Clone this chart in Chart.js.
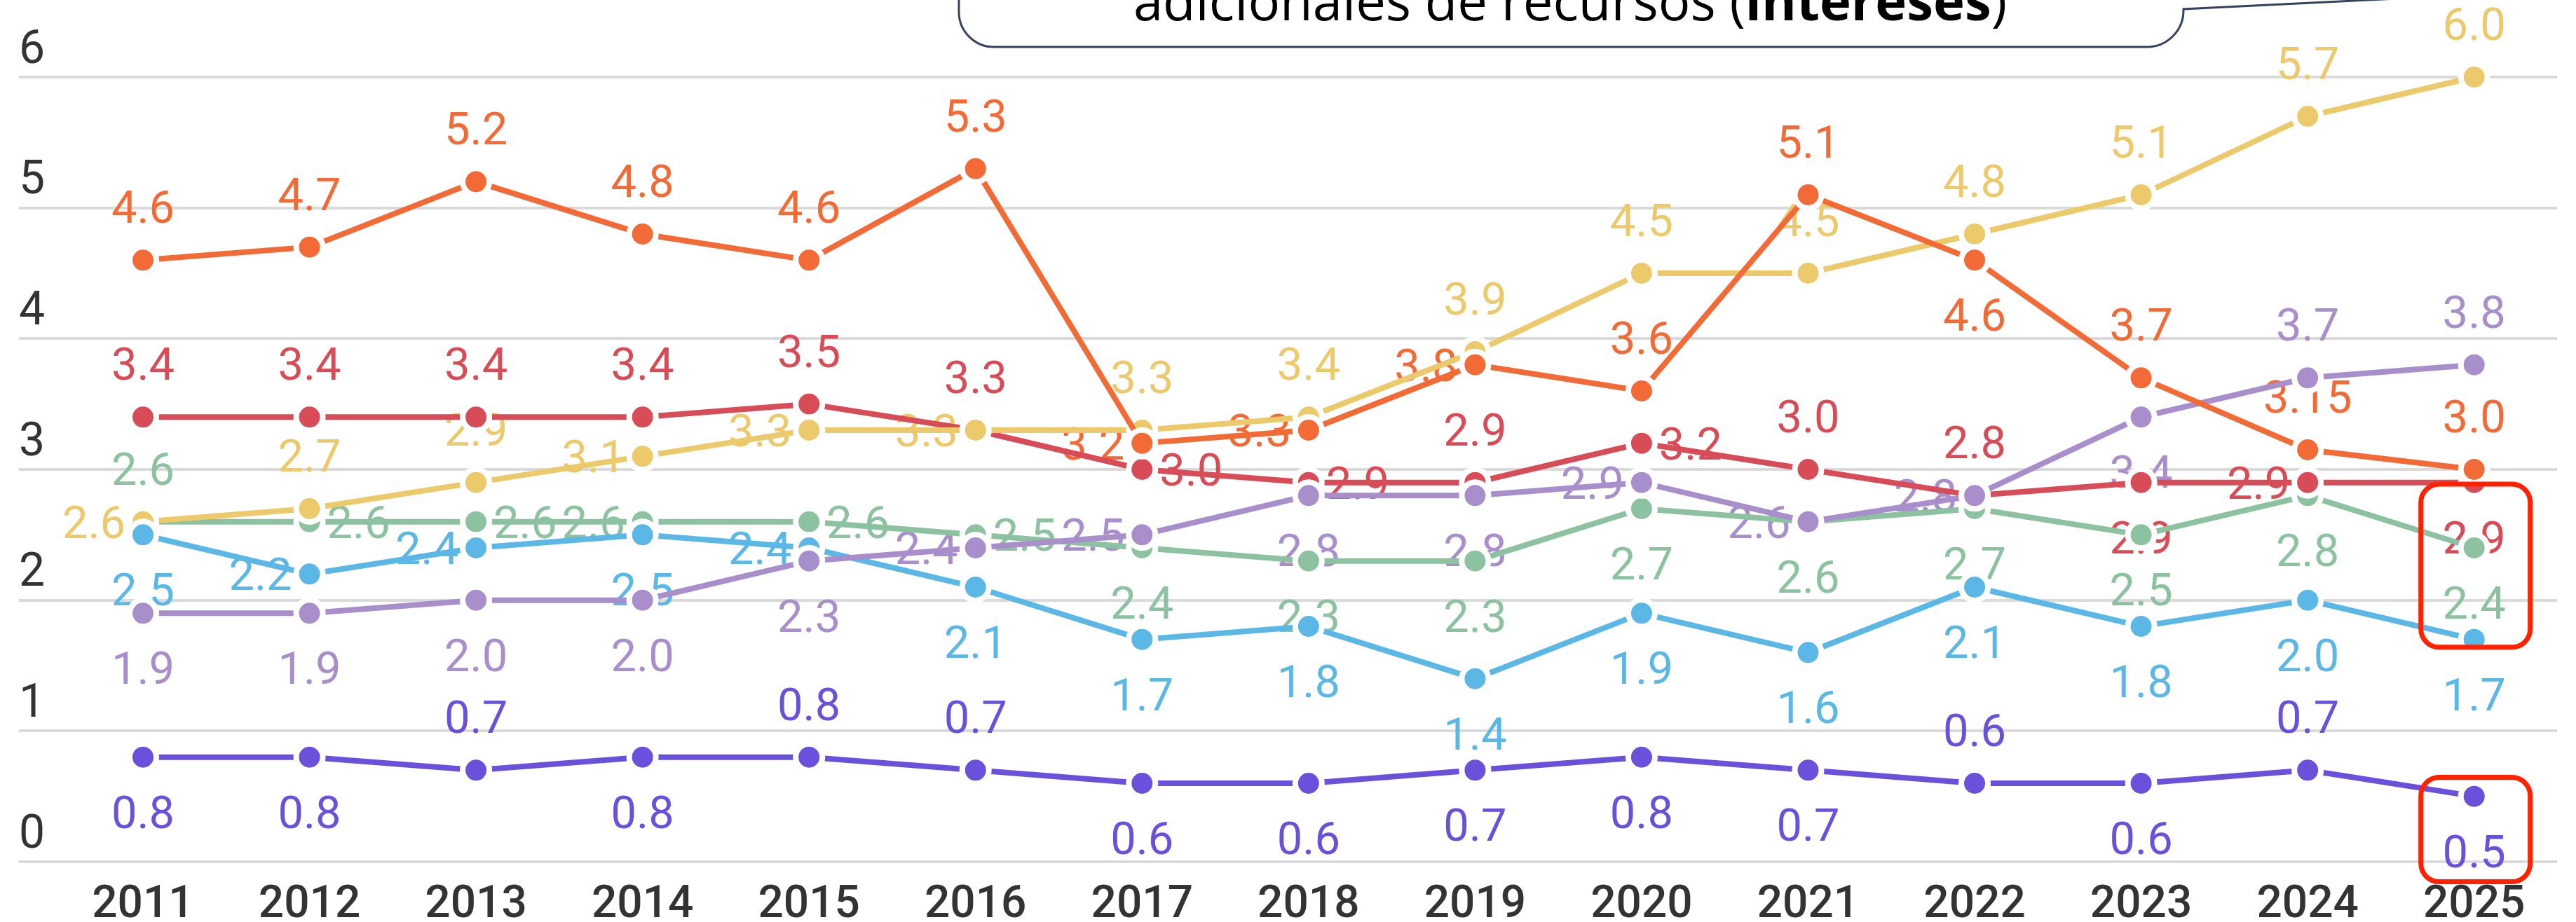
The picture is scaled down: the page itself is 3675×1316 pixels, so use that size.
<!DOCTYPE html>
<html>
<head>
<meta charset="utf-8">
<script src="https://cdn.jsdelivr.net/npm/chart.js@4.4.1/dist/chart.umd.min.js"></script>
<style>
  html, body { margin: 0; padding: 0; background: #ffffff; }
  canvas { display: block; }
</style>
</head>
<body>
<canvas id="chart" width="3675" height="1316"></canvas>
<script>
// categories and tick labels
const years = [2011, 2012, 2013, 2014, 2015, 2016, 2017, 2018, 2019, 2020, 2021, 2022, 2023, 2024, 2025];
const yTicks = [0, 1, 2, 3, 4, 5, 6];

// series values
const orange   = [4.6, 4.7, 5.2, 4.8, 4.6, 5.3, 3.2, 3.3, 3.8, 3.6, 5.1, 4.6, 3.7, 3.15, 3.0];
const red      = [3.4, 3.4, 3.4, 3.4, 3.5, 3.3, 3.0, 2.9, 2.9, 3.2, 3.0, 2.8, 2.9, 2.9, 2.9];
const yellow   = [2.6, 2.7, 2.9, 3.1, 3.3, 3.3, 3.3, 3.4, 3.9, 4.5, 4.5, 4.8, 5.1, 5.7, 6.0];
const green    = [2.6, 2.6, 2.6, 2.6, 2.6, 2.5, 2.4, 2.3, 2.3, 2.7, 2.6, 2.7, 2.5, 2.8, 2.4];
const blue     = [2.5, 2.2, 2.4, 2.5, 2.4, 2.1, 1.7, 1.8, 1.4, 1.9, 1.6, 2.1, 1.8, 2.0, 1.7];
const lavender = [1.9, 1.9, 2.0, 2.0, 2.3, 2.4, 2.5, 2.8, 2.8, 2.9, 2.6, 2.8, 3.4, 3.7, 3.8];
const purple   = [0.8, 0.8, 0.7, 0.8, 0.8, 0.7, 0.6, 0.6, 0.7, 0.8, 0.7, 0.6, 0.6, 0.7, 0.5];

// where each value label sits: a = above, b = below, l = left, r = right
const orangePos   = 'a a a a a a l l l a a b a a a'.split(' ');
const redPos      = 'a a a a a a r r a r a a b l b'.split(' ');
const yellowPos   = 'l a a l l l a a a a a a a a a'.split(' ');
const greenPos    = 'a r r l r r b b b b b b b b b'.split(' ');
const bluePos     = 'b l l b l b b b b b b b b b b'.split(' ');
const lavenderPos = 'b b b b b l l b b l l l b a a'.split(' ');
const purplePos   = 'b b a b a a b b b b b a b a b'.split(' ');

const fmt = v => Math.abs(v * 10 - Math.round(v * 10)) < 1e-9 ? v.toFixed(1) : v.toFixed(2);

function makeSet(values, color, pos, order) {
  return {
    data: values.map((v, i) => ({ x: years[i], y: v })),
    borderColor: color,
    backgroundColor: color,
    pointBackgroundColor: color,
    pointBorderColor: '#ffffff',
    pointBorderWidth: 8,
    pointRadius: 19,
    borderWidth: 8,
    tension: 0,
    clip: false,
    order: order,
    labelPos: pos
  };
}

const labelPlugin = {
  id: 'valueLabels',
  beforeDatasetsDraw(chart) {
    const ctx = chart.ctx;
    ctx.save();
    ctx.font = '400 65px Roboto';
    ctx.textAlign = 'center';
    ctx.textBaseline = 'alphabetic';
    chart.data.datasets.forEach((ds, i) => {
      const meta = chart.getDatasetMeta(i);
      meta.data.forEach((pt, j) => {
        const p = ds.labelPos[j];
        let dx = 0, dy = 0;
        if (p === 'a') dy = -76;
        else if (p === 'b') dy = 78;
        else if (p === 'l') dx = -70;
        else dx = 70;
        ctx.fillStyle = ds.borderColor;
        ctx.fillText(fmt(ds.data[j].y), pt.x + dx, pt.y + dy + 23);
      });
    });
    ctx.restore();
  }
};

const notePlugin = {
  id: 'notes',
  afterDraw(chart) {
    const ctx = chart.ctx;
    const xs = chart.scales.x, ys = chart.scales.y;
    ctx.save();

    // callout box cut at the top of the picture
    const outline = () => {
      ctx.beginPath();
      ctx.moveTo(1368, -20);
      ctx.lineTo(1368, 17);
      ctx.arcTo(1368, 67, 1418, 67, 50);
      ctx.lineTo(3063, 67);
      ctx.arcTo(3115, 67, 3115, 15, 52);
      ctx.lineTo(3115, 13);
      ctx.lineTo(3440, -3);
    };
    outline();
    ctx.lineTo(3440, -20);
    ctx.closePath();
    ctx.fillStyle = '#ffffff';
    ctx.fill();
    outline();
    ctx.strokeStyle = '#34425e';
    ctx.lineWidth = 3;
    ctx.stroke();

    const t1 = 'adicionales de recursos (';
    const t2 = 'intereses';
    const t3 = ')';
    ctx.fillStyle = '#000000';
    ctx.textBaseline = 'alphabetic';
    ctx.textAlign = 'left';
    ctx.font = '400 76px "Open Sans"';
    const w1 = ctx.measureText(t1).width, w3 = ctx.measureText(t3).width;
    ctx.font = '700 76px "Open Sans"';
    const w2 = ctx.measureText(t2).width;
    let tx = 2240 - (w1 + w2 + w3) / 2;
    const ty = 29;
    ctx.font = '400 76px "Open Sans"';
    ctx.fillText(t1, tx, ty);
    tx += w1;
    ctx.font = '700 76px "Open Sans"';
    ctx.fillText(t2, tx, ty);
    tx += w2;
    ctx.font = '400 76px "Open Sans"';
    ctx.fillText(t3, tx, ty);

    // red highlight boxes on the last year
    const cx = xs.getPixelForValue(years[years.length - 1]) + 2;
    ctx.strokeStyle = '#ff2200';
    ctx.lineWidth = 7;
    const boxes = [[2.887, 1.64], [0.645, -0.153]];
    boxes.forEach(([top, bottom]) => {
      const y0 = ys.getPixelForValue(top), y1 = ys.getPixelForValue(bottom);
      ctx.beginPath();
      ctx.roundRect(cx - 78, y0, 156, y1 - y0, 26);
      ctx.stroke();
    });
    ctx.restore();
  }
};

new Chart(document.getElementById('chart'), {
  type: 'line',
  data: {
    datasets: [
      makeSet(purple,   '#6a50da', purplePos, 0),
      makeSet(orange,   '#f26a36', orangePos, 1),
      makeSet(lavender, '#a88fcc', lavenderPos, 2),
      makeSet(blue,     '#5bb7e5', bluePos, 3),
      makeSet(yellow,   '#ecc96a', yellowPos, 4),
      makeSet(red,      '#d84c58', redPos, 5),
      makeSet(green,    '#8cc2a0', greenPos, 6)
    ]
  },
  options: {
    responsive: false,
    animation: false,
    devicePixelRatio: 1,
    layout: { padding: { left: 21, right: 11, top: 110, bottom: -40 } },
    plugins: { legend: { display: false }, tooltip: { enabled: false } },
    scales: {
      x: {
        type: 'linear',
        min: 2010.255,
        max: 2025.498,
        afterBuildTicks: s => { s.ticks = years.map(v => ({ value: v })); },
        grid: { display: false, drawTicks: false },
        border: { display: false },
        ticks: {
          autoSkip: false,
          maxRotation: 0,
          padding: 24.6,
          color: '#333333',
          font: { family: 'Roboto', size: 64, weight: '500' },
          callback: v => String(v)
        }
      },
      y: {
        min: 0,
        max: 6,
        afterBuildTicks: s => { s.ticks = yTicks.map(v => ({ value: v })); },
        grid: { color: '#dadada', lineWidth: 4, drawTicks: false },
        border: { display: false },
        ticks: {
          mirror: true,
          padding: 0,
          labelOffset: -37,
          color: '#333333',
          font: { family: 'Roboto', size: 66 }
        }
      }
    }
  },
  plugins: [labelPlugin, notePlugin]
});
</script>
</body>
</html>
